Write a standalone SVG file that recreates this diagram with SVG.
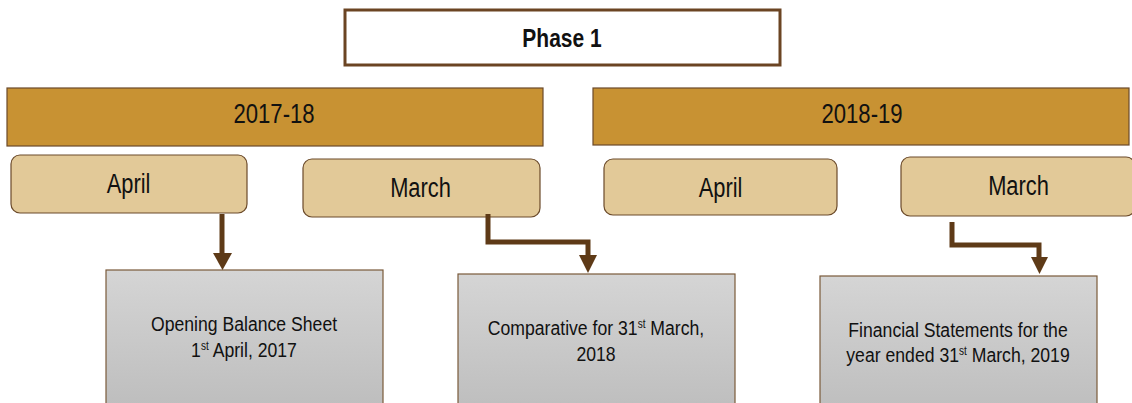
<svg xmlns="http://www.w3.org/2000/svg" width="1132" height="403" viewBox="0 0 1132 403">
<style>
text{font-family:"Liberation Sans",Arial,sans-serif;fill:#111;text-anchor:middle}
.phase{fill:#fff;stroke:#6b4423;stroke-width:3}
.year{fill:#c89233;stroke:#6b4a2a;stroke-width:1.2}
.month{fill:#e2c998;stroke:#6b4a2a;stroke-width:1.2}
.doc{fill:url(#g);stroke:#7a5a3a;stroke-width:1.2}
.conn{fill:none;stroke:#5e3a17;stroke-width:5}
.head{fill:#5e3a17}
.t1{font-size:21px}
.tm{font-size:27px}
.tp{font-size:25px;font-weight:bold}
</style>
<defs>
<linearGradient id="g" x1="0" y1="0" x2="0" y2="1">
<stop offset="0" stop-color="#d5d5d5"/>
<stop offset="1" stop-color="#bdbdbd"/>
</linearGradient>
</defs>
<g id="phase1"><rect class="phase" x="345" y="10" width="435" height="55"/><text class="tp" transform="translate(562 0) scale(0.84 1)" x="0" y="47">Phase 1</text></g>
<g id="y2017"><rect class="year" x="7" y="88" width="536" height="58"/><text class="tm" transform="translate(274 0) scale(0.82 1)" x="0" y="123.5">2017-18</text></g>
<g id="y2018"><rect class="year" x="593" y="88" width="536" height="57"/><text class="tm" transform="translate(862 0) scale(0.82 1)" x="0" y="123.5">2018-19</text></g>
<g id="apr1"><rect class="month" x="11" y="155" width="236" height="58" rx="9"/><text class="tm" transform="translate(128.5 0) scale(0.81 1)" x="0" y="192.7">April</text></g>
<g id="mar1"><rect class="month" x="303" y="159" width="237" height="58" rx="9"/><text class="tm" transform="translate(420.5 0) scale(0.81 1)" x="0" y="196.7">March</text></g>
<g id="apr2"><rect class="month" x="604" y="159" width="233" height="56" rx="9"/><text class="tm" transform="translate(720.5 0) scale(0.81 1)" x="0" y="196.7">April</text></g>
<g id="mar2"><rect class="month" x="901" y="157" width="234" height="59" rx="9"/><text class="tm" transform="translate(1018.5 0) scale(0.81 1)" x="0" y="194.7">March</text></g>
<g id="doc1"><rect class="doc" x="106" y="270" width="277" height="140"/><g transform="translate(244 0) scale(0.84 1)"><text class="t1" x="0" y="331">Opening Balance Sheet</text><text class="t1" x="0" y="357">1<tspan font-size="12" dy="-7">st</tspan><tspan dy="7"> April, 2017</tspan></text></g></g>
<g id="doc2"><rect class="doc" x="458" y="274" width="277" height="140"/><g transform="translate(596 0) scale(0.84 1)"><text class="t1" x="0" y="335">Comparative for 31<tspan font-size="12" dy="-7">st</tspan><tspan dy="7"> March,</tspan></text><text class="t1" x="0" y="361.5">2018</text></g></g>
<g id="doc3"><rect class="doc" x="820" y="276" width="277" height="140"/><g transform="translate(958 0) scale(0.84 1)"><text class="t1" x="0" y="337">Financial Statements for the</text><text class="t1" x="0" y="362.5">year ended 31<tspan font-size="12" dy="-7">st</tspan><tspan dy="7"> March, 2019</tspan></text></g></g>
<g id="connectors">
<path class="conn" d="M222 214V254"/><polygon class="head" points="213,253 232,253 222.5,270"/>
<path class="conn" d="M488 214V242H588V256"/><polygon class="head" points="579,255 597,255 588,273"/>
<path class="conn" d="M952 222V245H1039V258"/><polygon class="head" points="1031,257 1048,257 1039.5,274"/>
</g>
</svg>
